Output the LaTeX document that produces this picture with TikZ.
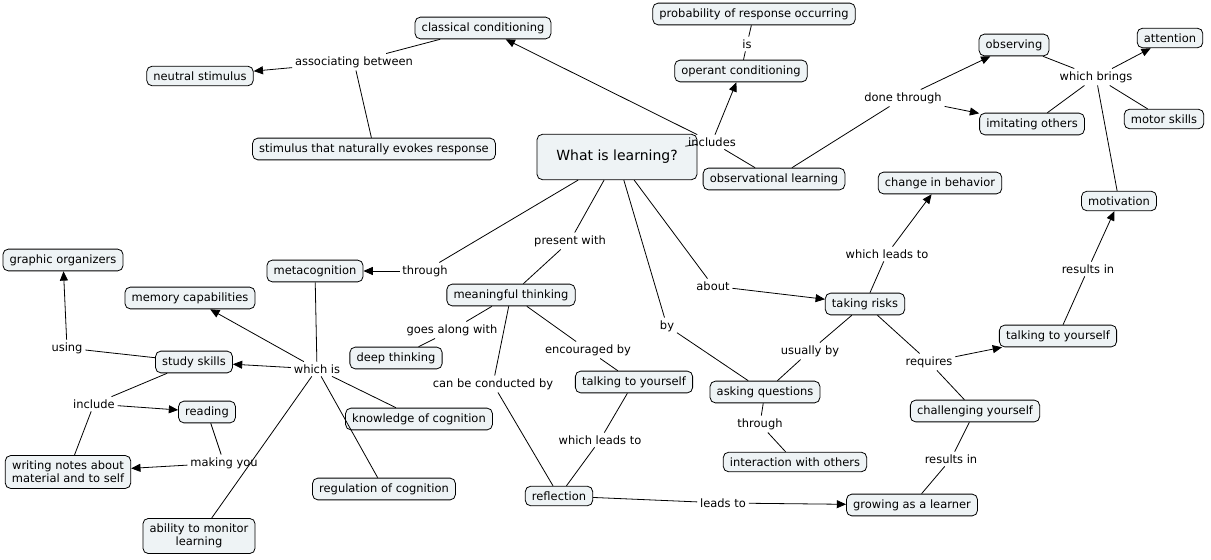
\documentclass[tikz,border=0pt]{standalone}
\usepackage{fontspec}
\setmainfont{DejaVu Sans}
\usetikzlibrary{arrows.meta}
\definecolor{boxfill}{HTML}{EEF3F5}
\begin{document}
\begin{tikzpicture}[x=0.75pt,y=-0.75pt,
  cn/.style={draw=black,fill=boxfill,rounded corners=4pt,inner xsep=5pt,inner ysep=4pt,font=\fontsize{8.6}{10}\selectfont,align=center,line width=0.6pt},
  lb/.style={inner sep=2pt,font=\fontsize{8.6}{10}\selectfont},
  ln/.style={line width=0.6pt},
  ar/.style={line width=0.6pt,-{Triangle[length=7pt,width=6pt]}}]
\useasboundingbox (0,0) rectangle (1211,560);
% concepts
\node[cn] (cc) at (483,28) {classical conditioning};
\node[cn] (prob) at (754,14) {probability of response occurring};
\node[cn] (oc) at (741,71) {operant conditioning};
\node[cn] (obs) at (1014,45) {observing};
\node[cn] (att) at (1170,38) {attention};
\node[cn] (ns) at (200,76) {neutral stimulus};
\node[cn] (imi) at (1032,124) {imitating others};
\node[cn] (mot) at (1164,119) {motor skills};
\node[cn] (stim) at (374,149) {stimulus that naturally evokes response};
\node[cn,font=\fontsize{10.5}{12}\selectfont,minimum width=120pt,minimum height=34pt] (wil) at (617,157) {What is learning?};
\node[cn] (ol) at (774,179) {observational learning};
\node[cn] (cib) at (940,183) {change in behavior};
\node[cn] (motv) at (1119,201) {motivation};
\node[cn] (go) at (63,260) {graphic organizers};
\node[cn] (meta) at (315,271) {metacognition};
\node[cn] (mem) at (190,298) {memory capabilities};
\node[cn] (mt) at (511,295) {meaningful thinking};
\node[cn] (tr) at (865,304) {taking risks};
\node[cn] (tyR) at (1058,336) {talking to yourself};
\node[cn] (dt) at (396,358) {deep thinking};
\node[cn] (ss) at (194,362) {study skills};
\node[cn] (tyM) at (634,382) {talking to yourself};
\node[cn] (aq) at (765,392) {asking questions};
\node[cn] (rd) at (207,412) {reading};
\node[cn] (koc) at (419,419) {knowledge of cognition};
\node[cn] (chy) at (975,411) {challenging yourself};
\node[cn] (iwo) at (795,462) {interaction with others};
\node[cn] (wn) at (68,472) {writing notes about\\material and to self};
\node[cn] (roc) at (384,489) {regulation of cognition};
\node[cn] (refl) at (559,496) {reflection};
\node[cn] (gal) at (912,505) {growing as a learner};
\node[cn] (amt) at (199,536) {ability to monitor\\learning};
% link labels
\node[lb] (l1) at (354,62) {associating between};
\node[lb] (l2) at (747,44) {is};
\node[lb] (l3) at (903,98) {done through};
\node[lb] (l4) at (1096,77) {which brings};
\node[lb] (l5) at (712,142) {includes};
\node[lb] (l6) at (887,254) {which leads to};
\node[lb] (l7) at (1088,269) {results in};
\node[lb] (l8) at (425,271) {through};
\node[lb] (l9) at (570,241) {present with};
\node[lb] (l10) at (713,286) {about};
\node[lb] (l11) at (452,330) {goes along with};
\node[lb] (l12) at (667,326) {by};
\node[lb] (l13) at (588,350) {encouraged by};
\node[lb] (l14) at (810,351) {usually by};
\node[lb] (l15) at (929,362) {requires};
\node[lb] (l16) at (317,369) {which is};
\node[lb] (l17) at (67,348) {using};
\node[lb] (l18) at (94,404) {include};
\node[lb] (l19) at (493,384) {can be conducted by};
\node[lb] (l20) at (600,440) {which leads to};
\node[lb] (l21) at (760,424) {through};
\node[lb] (l22) at (224,463) {making you};
\node[lb] (l23) at (951,459) {results in};
\node[lb] (l24) at (723,503) {leads to};
% connectors
\draw[ln] (cc) -- (l1); \draw[ln] (stim) -- (l1); \draw[ar] (l1) -- (ns);
\draw[ln] (wil) -- (l5); \draw[ln] (ol) -- (l5);
\draw[ar] (l5) -- (cc); \draw[ar] (l5) -- (oc);
\draw[ln] (oc) -- (l2); \draw[ln] (l2) -- (prob);
\draw[ln] (ol) -- (l3); \draw[ar] (l3) -- (obs); \draw[ar] (l3) -- (imi);
\draw[ln] (obs) -- (l4); \draw[ln] (imi) -- (l4); \draw[ln] (motv) -- (l4);
\draw[ar] (l4) -- (att); \draw[ln] (l4) -- (mot);
\draw[ln] (wil) -- (l8); \draw[ar] (l8) -- (meta);
\draw[ln] (wil) -- (l9); \draw[ln] (l9) -- (mt);
\draw[ln] (wil) -- (l10); \draw[ar] (l10) -- (tr);
\draw[ln] (wil) -- (l12); \draw[ln] (l12) -- (aq);
\draw[ln] (tr) -- (l6); \draw[ar] (l6) -- (cib);
\draw[ln] (tr) -- (l14); \draw[ln] (l14) -- (aq);
\draw[ln] (tr) -- (l15); \draw[ar] (l15) -- (tyR); \draw[ln] (l15) -- (chy);
\draw[ln] (tyR) -- (l7); \draw[ar] (l7) -- (motv);
\draw[ln] (chy) -- (l23); \draw[ln] (l23) -- (gal);
\draw[ln] (aq) -- (l21); \draw[ln] (l21) -- (iwo);
\draw[ln] (mt) -- (l11); \draw[ln] (l11) -- (dt);
\draw[ln] (mt) -- (l13); \draw[ln] (l13) -- (tyM);
\draw[ln] (tyM) -- (l20); \draw[ln] (l20) -- (refl);
\draw[ln] (mt) -- (l19); \draw[ln] (l19) -- (refl);
\draw[ln] (refl) -- (l24); \draw[ar] (l24) -- (gal);
\draw[ln] (meta) -- (l16);
\draw[ar] (l16) -- (mem); \draw[ar] (l16) -- (ss);
\draw[ln] (l16) -- (koc); \draw[ln] (l16) -- (roc); \draw[ln] (l16) -- (amt);
\draw[ln] (ss) -- (l17); \draw[ar] (l17) -- (go);
\draw[ln] (ss) -- (l18); \draw[ar] (l18) -- (rd); \draw[ln] (l18) -- (wn);
\draw[ln] (rd) -- (l22); \draw[ar] (l22) -- (wn);
\end{tikzpicture}
\end{document}
